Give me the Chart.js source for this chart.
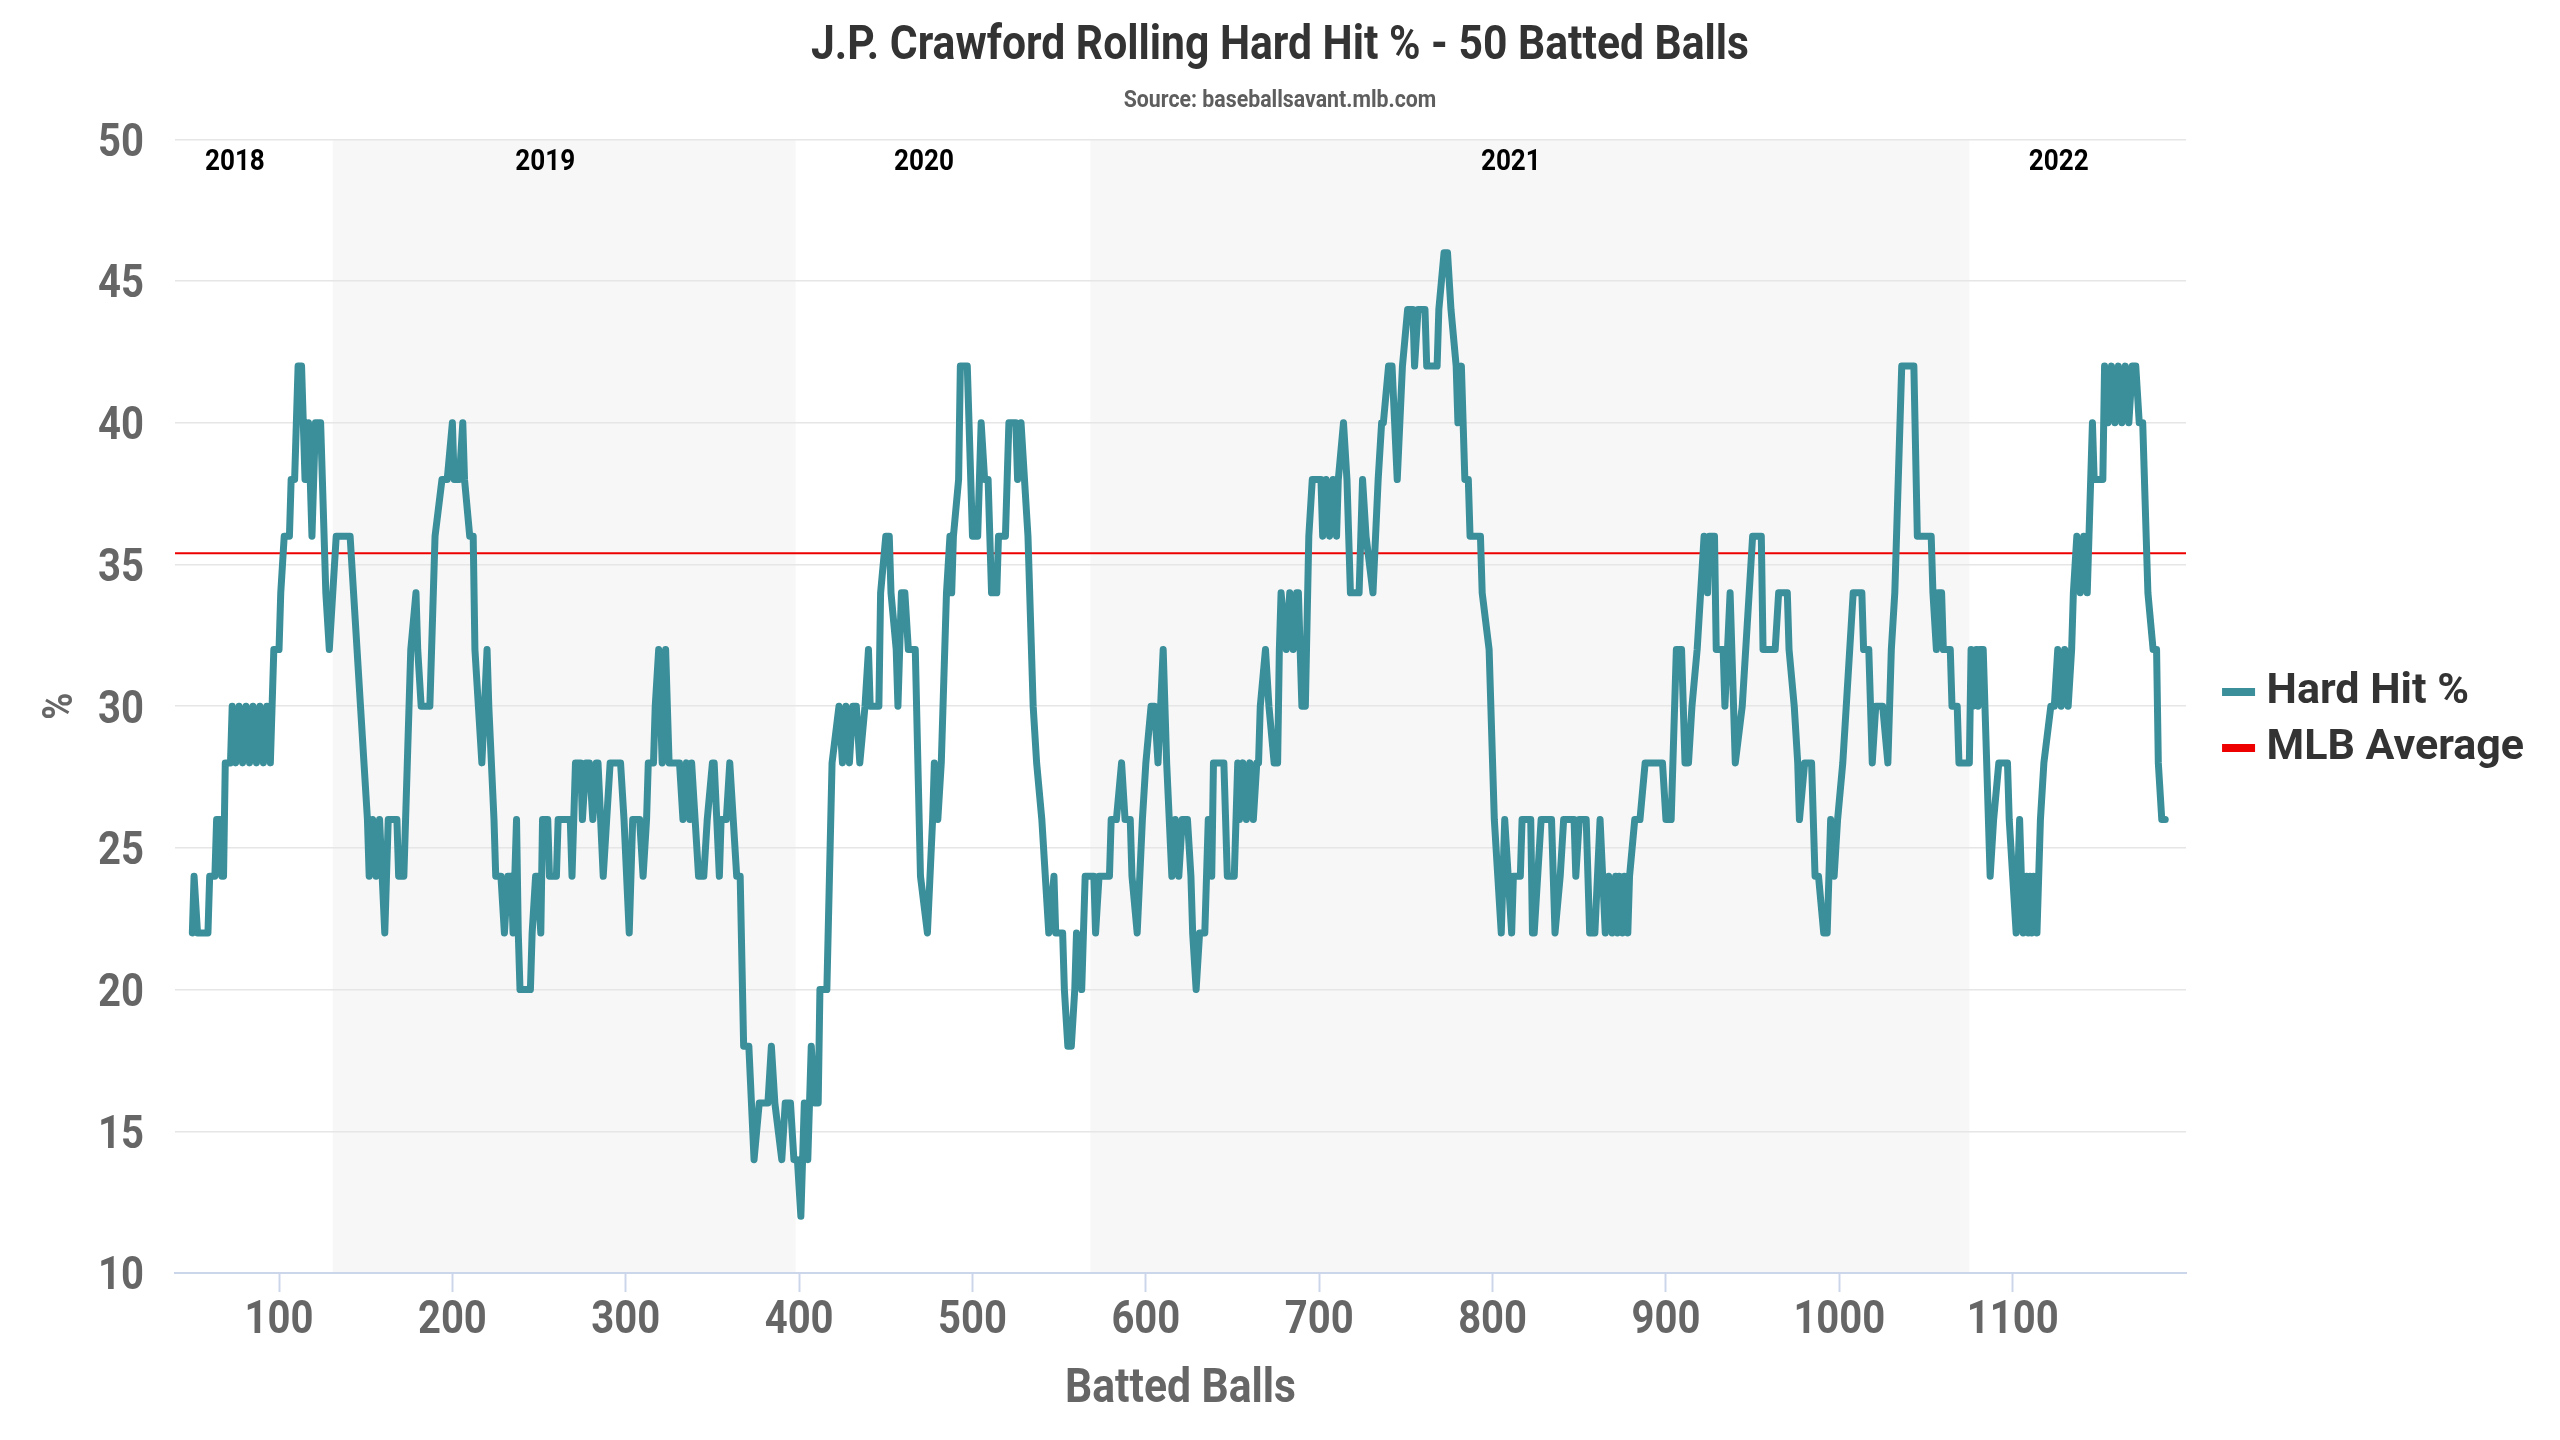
<!DOCTYPE html>
<html>
<head>
<meta charset="utf-8">
<title>J.P. Crawford Rolling Hard Hit %</title>
<script src="https://cdn.jsdelivr.net/npm/chart.js@4.4.1/dist/chart.umd.min.js"></script>
<style>
  html, body { margin: 0; padding: 0; background: #fff; }
  #wrap { width: 2560px; height: 1440px; }
</style>
</head>
<body>
<div id="wrap"><canvas id="chart"></canvas></div>
<script>
// Rolling 50 batted ball hard hit % (batted ball #, %)
const battedBalls = [
  50, 51, 53, 59, 60, 63, 64, 66, 67, 68, 69, 72, 73, 75, 77, 79, 81, 83, 85, 87, 89, 91, 93, 95, 96, 97, 100,
  101, 103, 106, 107, 109, 111, 113, 115, 116, 117, 118, 119, 121, 124, 125, 127, 129, 131, 133, 141, 143, 145,
  147, 149, 151, 152, 154, 156, 158, 161, 163, 168, 169, 172, 174, 176, 179, 180, 182, 187, 188, 190, 194, 197,
  200, 201, 204, 206, 207, 210, 212, 213, 215, 217, 220, 221, 224, 225, 228, 230, 232, 234, 235, 237, 238, 239,
  245, 246, 248, 249, 251, 252, 255, 256, 260, 261, 268, 269, 271, 274, 275, 277, 279, 281, 283, 284, 287, 289,
  291, 297, 299, 302, 304, 308, 310, 312, 313, 316, 317, 319, 321, 323, 325, 331, 333, 335, 337, 338, 340, 342,
  345, 347, 350, 351, 354, 355, 358, 360, 362, 364, 366, 368, 371, 374, 377, 382, 384, 386, 390, 392, 395, 397,
  399, 401, 403, 405, 407, 409, 411, 412, 416, 419, 423, 425, 427, 429, 431, 433, 435, 438, 440, 441, 446, 447,
  450, 452, 453, 456, 457, 459, 461, 463, 467, 470, 474, 477, 478, 480, 482, 485, 487, 488, 489, 492, 493, 497,
  498, 500, 503, 504, 505, 507, 509, 511, 514, 515, 519, 521, 525, 526, 528, 530, 532, 535, 537, 540, 542, 544,
  547, 548, 552, 553, 555, 557, 559, 560, 563, 565, 570, 571, 573, 579, 580, 583, 586, 588, 591, 592, 595, 598,
  600, 603, 605, 607, 610, 612, 615, 617, 619, 621, 624, 626, 627, 629, 631, 634, 635, 636, 638, 639, 645, 647,
  651, 653, 654, 656, 658, 660, 662, 664, 665, 666, 669, 671, 674, 676, 677, 678, 681, 683, 685, 687, 688, 690,
  692, 694, 696, 701, 702, 704, 706, 708, 710, 711, 714, 716, 718, 723, 724, 725, 727, 731, 734, 736, 737, 740,
  742, 745, 748, 751, 754, 755, 757, 761, 762, 768, 769, 772, 774, 776, 779, 780, 782, 784, 786, 787, 793, 794,
  798, 801, 803, 805, 807, 809, 811, 812, 816, 817, 819, 822, 823, 824, 826, 828, 834, 836, 839, 841, 847, 848,
  850, 854, 856, 859, 862, 865, 867, 869, 871, 872, 873, 875, 876, 878, 879, 882, 885, 888, 898, 900, 903, 906,
  909, 911, 913, 915, 918, 920, 922, 924, 925, 928, 929, 933, 934, 937, 940, 944, 946, 948, 950, 955, 956, 963,
  965, 970, 971, 974, 976, 977, 980, 984, 986, 988, 991, 993, 995, 997, 999, 1002, 1004, 1006, 1008, 1013, 1014,
  1017, 1019, 1021, 1025, 1028, 1030, 1032, 1036, 1043, 1045, 1053, 1054, 1056, 1057, 1059, 1060, 1064, 1065,
  1068, 1069, 1075, 1076, 1077, 1079, 1080, 1081, 1083, 1084, 1087, 1089, 1092, 1097, 1098, 1100, 1102, 1104,
  1106, 1108, 1109, 1110, 1111, 1112, 1114, 1116, 1118, 1122, 1124, 1126, 1128, 1130, 1132, 1134, 1135, 1137,
  1139, 1141, 1143, 1144, 1146, 1147, 1152, 1153, 1155, 1157, 1159, 1161, 1163, 1165, 1167, 1169, 1171, 1173,
  1175, 1178, 1181, 1183, 1184, 1186, 1188
];
const hardHitPct = [
  22, 24, 22, 22, 24, 24, 26, 26, 24, 24, 28, 28, 30, 28, 30, 28, 30, 28, 30, 28, 30, 28, 30, 28, 30, 32, 32,
  34, 36, 36, 38, 38, 42, 42, 38, 38, 40, 38, 36, 40, 40, 38, 34, 32, 34, 36, 36, 34, 32,
  30, 28, 26, 24, 26, 24, 26, 22, 26, 26, 24, 24, 28, 32, 34, 32, 30, 30, 32, 36, 38, 38,
  40, 38, 38, 40, 38, 36, 36, 32, 30, 28, 32, 30, 26, 24, 24, 22, 24, 24, 22, 26, 22, 20,
  20, 22, 24, 24, 22, 26, 26, 24, 24, 26, 26, 24, 28, 28, 26, 28, 28, 26, 28, 28, 24, 26,
  28, 28, 26, 22, 26, 26, 24, 26, 28, 28, 30, 32, 28, 32, 28, 28, 26, 28, 26, 28, 26, 24,
  24, 26, 28, 28, 24, 26, 26, 28, 26, 24, 24, 18, 18, 14, 16, 16, 18, 16, 14, 16, 16, 14,
  14, 12, 16, 14, 18, 16, 16, 20, 20, 28, 30, 28, 30, 28, 30, 30, 28, 30, 32, 30, 30, 34,
  36, 36, 34, 32, 30, 34, 34, 32, 32, 24, 22, 26, 28, 26, 28, 34, 36, 34, 36, 38, 42, 42,
  40, 36, 36, 38, 40, 38, 38, 34, 34, 36, 36, 40, 40, 38, 40, 38, 36, 30, 28, 26, 24, 22,
  24, 22, 22, 20, 18, 18, 20, 22, 20, 24, 24, 22, 24, 24, 26, 26, 28, 26, 26, 24, 22, 26,
  28, 30, 30, 28, 32, 28, 24, 26, 24, 26, 26, 24, 22, 20, 22, 22, 24, 26, 24, 28, 28, 24,
  24, 28, 26, 28, 26, 28, 26, 28, 28, 30, 32, 30, 28, 28, 32, 34, 32, 34, 32, 34, 34, 30,
  30, 36, 38, 38, 36, 38, 36, 38, 36, 38, 40, 38, 34, 34, 36, 38, 36, 34, 38, 40, 40, 42,
  42, 38, 42, 44, 44, 42, 44, 44, 42, 42, 44, 46, 46, 44, 42, 40, 42, 38, 38, 36, 36, 34,
  32, 26, 24, 22, 26, 24, 22, 24, 24, 26, 26, 26, 22, 22, 24, 26, 26, 22, 24, 26, 26, 24,
  26, 26, 22, 22, 26, 22, 24, 22, 24, 22, 24, 22, 24, 22, 24, 26, 26, 28, 28, 26, 26, 32,
  32, 28, 28, 30, 32, 34, 36, 34, 36, 36, 32, 32, 30, 34, 28, 30, 32, 34, 36, 36, 32, 32,
  34, 34, 32, 30, 28, 26, 28, 28, 24, 24, 22, 22, 26, 24, 26, 28, 30, 32, 34, 34, 32,
  32, 28, 30, 30, 28, 32, 34, 42, 42, 36, 36, 34, 32, 34, 34, 32, 32, 30,
  30, 28, 28, 32, 30, 32, 30, 32, 32, 30, 24, 26, 28, 28, 26, 24, 22, 26,
  22, 24, 22, 24, 22, 24, 22, 26, 28, 30, 30, 32, 30, 32, 30, 32, 34, 36,
  34, 36, 34, 36, 40, 38, 38, 42, 40, 42, 40, 42, 40, 42, 40, 42, 42, 40,
  40, 34, 32, 32, 28, 26, 26
];

const seasons = ['2018', '2019', '2020', '2021', '2022'];
const seasonBounds = [40, 131, 398, 568, 1075, 1200];   // batted ball # where each season starts / ends
const mlbAverage = 35.4;
const xTicks = [100, 200, 300, 400, 500, 600, 700, 800, 900, 1000, 1100];
const yTicks = [10, 15, 20, 25, 30, 35, 40, 45, 50];
const xRange = [40, 1200];
const yRange = [10, 50];

const titleText = 'J.P. Crawford Rolling Hard Hit % - 50 Batted Balls';
const subtitleText = 'Source: baseballsavant.mlb.com';
const lineColors = ['#3b8f9a', '#ee0000'];

Chart.defaults.font.family = 'Roboto';

// Roboto Bold squeezed horizontally, to stand in for a condensed face
const squeeze = 0.87;
function drawText(ctx, text, x, y, size, color, align, vertical) {
    ctx.save();
    ctx.translate(x, y);
    if (vertical) ctx.rotate(-Math.PI / 2);
    ctx.scale(squeeze, 1);
    ctx.font = 'bold ' + size + 'px Roboto';
    ctx.fillStyle = color;
    ctx.textAlign = align;
    ctx.textBaseline = 'alphabetic';
    ctx.fillText(text, 0, size * 0.355);   // centre the cap height on y
    ctx.restore();
}

// Shaded season bands, under the grid
const seasonBands = {
    id: 'seasonBands',
    beforeDraw(chart) {
        const { ctx, chartArea, scales: { x } } = chart;
        ctx.save();
        ctx.fillStyle = '#f7f7f8';
        seasons.forEach((label, i) => {
            if (i % 2 === 0) return;
            const left = x.getPixelForValue(seasonBounds[i]);
            const right = x.getPixelForValue(seasonBounds[i + 1]);
            ctx.fillRect(left, chartArea.top, right - left, chartArea.bottom - chartArea.top);
        });
        ctx.restore();
    }
};

// All the condensed text and the legend symbols
const chartText = {
    id: 'chartText',
    afterDraw(chart) {
        const { ctx, chartArea, scales: { x, y } } = chart;
        const midX = chart.width / 2;
        drawText(ctx, titleText, midX, 42, 49, '#333', 'center');
        drawText(ctx, subtitleText, midX, 98, 24.5, '#5e5e5e', 'center');

        seasons.forEach((label, i) => {
            const left = x.getPixelForValue(seasonBounds[i]);
            const right = x.getPixelForValue(seasonBounds[i + 1]);
            drawText(ctx, label, (left + right) / 2 - 19, chartArea.top + 20, 30, '#000', 'center');
        });

        yTicks.forEach(v => drawText(ctx, String(v), chartArea.left - 31, y.getPixelForValue(v), 46, '#666', 'right'));
        xTicks.forEach(v => drawText(ctx, String(v), x.getPixelForValue(v), chartArea.bottom + 44, 46, '#666', 'center'));

        drawText(ctx, 'Batted Balls', (chartArea.left + chartArea.right) / 2, chartArea.bottom + 112, 49, '#666', 'center');
        drawText(ctx, '%', 57, (chartArea.top + chartArea.bottom) / 2, 42, '#666', 'center', true);

        ctx.save();
        chart.legend.legendHitBoxes.forEach((hb, i) => {
            ctx.fillStyle = lineColors[i];
            ctx.fillRect(hb.left - 1, hb.top + hb.height / 2 - 4, 33, 8);
        });
        ctx.restore();
    }
};

new Chart(document.getElementById('chart'), {
    type: 'line',
    data: {
        datasets: [{
            label: 'Hard Hit %',
            data: battedBalls.map((b, i) => ({ x: b, y: hardHitPct[i] })),
            borderColor: lineColors[0],
            backgroundColor: lineColors[0],
            borderWidth: 7,
            borderJoinStyle: 'round',
            borderCapStyle: 'round',
            pointRadius: 0,
            tension: 0
        }, {
            label: 'MLB Average',
            data: xRange.map(b => ({ x: b, y: mlbAverage })),
            borderColor: lineColors[1],
            backgroundColor: lineColors[1],
            borderWidth: 2,
            pointRadius: 0
        }]
    },
    options: {
        responsive: true,
        maintainAspectRatio: false,
        animation: false,
        devicePixelRatio: 1,
        layout: { padding: { left: 0, right: 26, top: 0, bottom: 0 } },
        plugins: {
            // kept only to reserve the space; the text is drawn by chartText
            title: {
                display: true,
                text: titleText,
                color: 'rgba(0,0,0,0)',
                font: { size: 50, weight: 'bold' },
                padding: { top: 14, bottom: 0 }
            },
            subtitle: {
                display: true,
                text: subtitleText,
                color: 'rgba(0,0,0,0)',
                font: { size: 22, weight: 'bold' },
                padding: { top: 11, bottom: 28 }
            },
            legend: {
                position: 'right',
                labels: {
                    boxWidth: 22,
                    boxHeight: 8,
                    padding: 13,
                    color: '#333',
                    font: { family: 'Roboto', size: 43, weight: 'bold' },
                    generateLabels: chart => Chart.defaults.plugins.legend.labels.generateLabels(chart)
                        .map(l => Object.assign(l, { fillStyle: 'rgba(0,0,0,0)', lineWidth: 0 }))
                }
            },
            tooltip: { enabled: false }
        },
        scales: {
            x: {
                type: 'linear',
                min: xRange[0],
                max: xRange[1],
                afterBuildTicks: scale => { scale.ticks = xTicks.map(v => ({ value: v })); },
                afterFit: scale => { scale.height = 167; },
                ticks: { display: false },
                grid: { drawOnChartArea: false, tickLength: 19, tickColor: '#ccd6eb', tickWidth: 2, color: '#ccd6eb' },
                border: { display: true, color: '#ccd6eb', width: 2 }
            },
            y: {
                min: yRange[0],
                max: yRange[1],
                afterBuildTicks: scale => { scale.ticks = yTicks.map(v => ({ value: v })); },
                afterFit: scale => { scale.width = 175; },
                ticks: { display: false },
                grid: {
                    color: c => (c.tick && c.tick.value === yRange[0]) ? 'rgba(0,0,0,0)' : '#e6e6e6',
                    lineWidth: 1.5,
                    drawTicks: false
                },
                border: { display: false }
            },
            gap: {
                type: 'linear',
                position: 'right',
                display: true,
                grid: { display: false },
                ticks: { display: false },
                border: { display: false },
                afterFit: scale => { scale.width = 24; }
            }
        }
    },
    plugins: [seasonBands, chartText]
});
</script>
</body>
</html>
